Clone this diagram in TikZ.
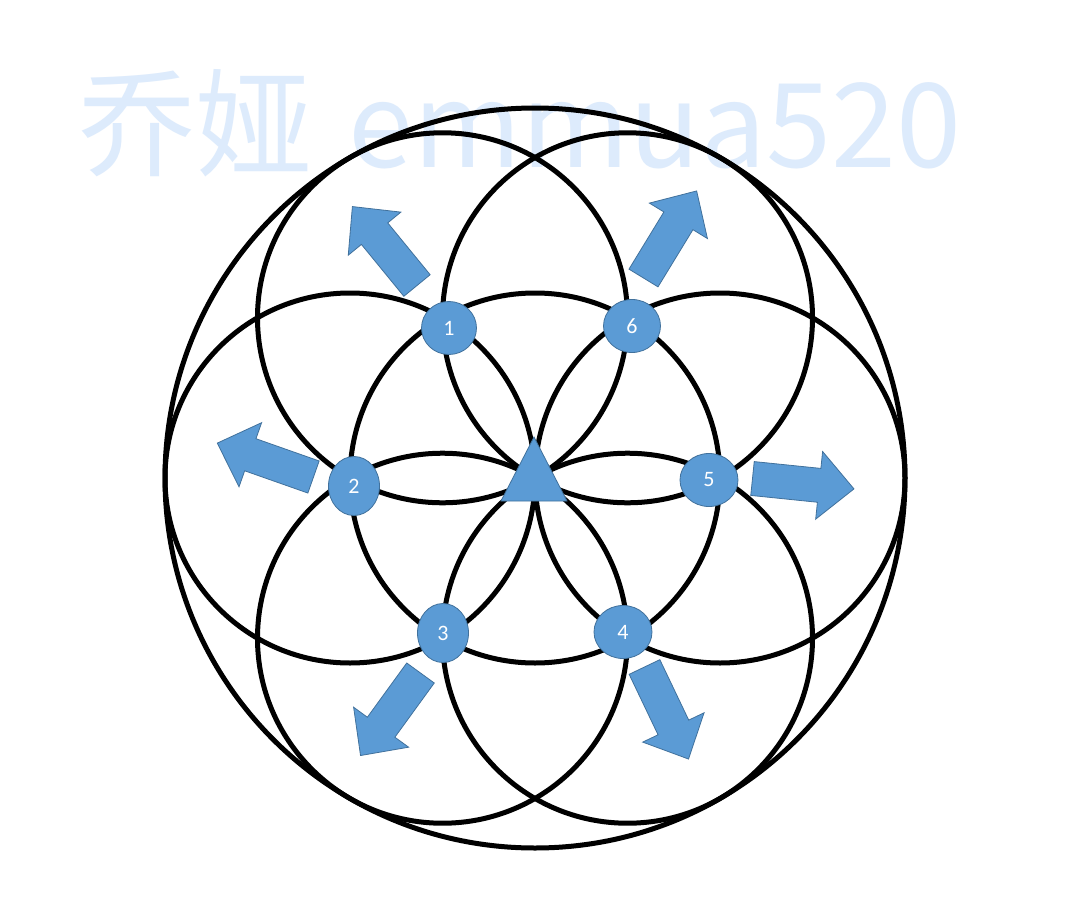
\documentclass[tikz,border=0pt]{standalone}
\usepackage{fontspec}
\newfontfamily\cjk{Noto Sans CJK SC}
\newfontfamily\lab{Carlito}
\usetikzlibrary{shapes.geometric}
\definecolor{nodeblue}{HTML}{5B9BD5}
\definecolor{nodeline}{HTML}{41719C}
\definecolor{wm}{RGB}{221,235,252}
\tikzset{
  ring/.style={line width=5pt, draw=black},
  num/.style={ellipse, fill=nodeblue, draw=nodeline, line width=0.8pt, text=white,
    font=\lab\fontsize{22}{22}\selectfont, inner sep=0pt},
  blockarrow/.pic={\filldraw[fill=nodeblue, draw=nodeline, line width=0.8pt]
    (0,-17) -- (67,-17) -- (67,-34) -- (102,0) -- (67,34) -- (67,17) -- (0,17) -- cycle;}
}
\begin{document}
\begin{tikzpicture}[x=1pt,y=-1pt]
\useasboundingbox[fill=white] (0,0) rectangle (1080,913);
% watermark
\node[anchor=base west, text=wm, font=\cjk\fontsize{117}{117}\selectfont, inner sep=0pt] (wmark) at (78,167) {乔娅 \hspace{10pt}emmua520};
% rings
\coordinate (O) at (535,478);
\draw[ring] (O) circle[radius=370];
\draw[ring] (O) circle[radius=185];
\foreach \a in {0,60,...,300}
  \draw[ring] (O) ++(\a:185) circle[radius=185];
% arrows
\pic[rotate=129.3] at (417,285.5) {blockarrow};
\pic[rotate=58.6] at (643.5,278) {blockarrow};
\pic[rotate=160.6] at (313.5,477) {blockarrow};
\pic[rotate=-5.85] at (752.5,478.5) {blockarrow};
\pic[rotate=-126] at (420.5,673) {blockarrow};
\pic[rotate=-64.45] at (644.5,667) {blockarrow};
% nodes
\node[num, minimum width=55pt, minimum height=53pt] (n1) at (449,328) {1};
\node[num, minimum width=57pt, minimum height=53pt] (n6) at (632,326) {6};
\node[num, minimum width=51pt, minimum height=59pt] (n2) at (354,486) {2};
\node[num, minimum width=58pt, minimum height=53pt] (n5) at (709,480) {5};
\node[num, minimum width=51pt, minimum height=59pt] (n3) at (443,633) {3};
\node[num, minimum width=58pt, minimum height=53pt] (n4) at (623,632) {4};
% centre triangle
\filldraw[fill=nodeblue, draw=nodeline, line width=0.8pt] (534,437) -- (567,501) -- (501,501) -- cycle;
\coordinate (tri) at (534,480);
\end{tikzpicture}
\end{document}
